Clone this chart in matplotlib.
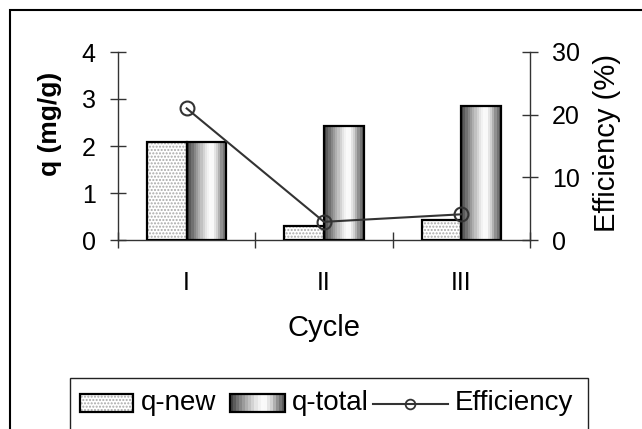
import numpy as np
import matplotlib
matplotlib.use("Agg")
import matplotlib.pyplot as plt
from matplotlib.patches import Rectangle
from matplotlib.lines import Line2D

# ---- data ----
cycles = ["I", "II", "III"]
q_new = [2.09, 0.30, 0.43]
q_total = [2.09, 2.43, 2.85]
efficiency = [21.0, 2.9, 4.1]
left_ticks = [0, 1, 2, 3, 4]
right_ticks = [0, 10, 20, 30]

plt.rcParams['font.family'] = ['Liberation Sans', 'DejaVu Sans']
W, H = 642, 429
fig = plt.figure(figsize=(W / 100, H / 100), dpi=100)

def fx(x):
    return x / W

def fy(y):
    return 1 - y / H

ax = fig.add_axes([fx(118), fy(240), fx(530) - fx(118), fy(52) - fy(240)])
ax2 = ax.twinx()

axis_col = '#333333'
x = np.arange(len(cycles))
w = 0.29

# gradient colormap for cylinder look (banded)
prof_pos = [0.0, 0.12, 0.3, 0.5, 0.62, 0.75, 0.88, 1.0]
prof_val = [0.22, 0.42, 0.68, 0.93, 1.0, 0.82, 0.52, 0.32]
nb = 18
band_x = (np.arange(nb) + 0.5) / nb
band_v = np.interp(band_x, prof_pos, prof_val)
grad_img = np.tile(band_v, (2, 1))
cmap_g = plt.get_cmap('gray')

# q-new bars: stippled fill
ax.bar(x - w / 2, q_new, w, color='white', edgecolor='#a8a8a8', hatch='.....',
       linewidth=0, zorder=2)
ax.bar(x - w / 2, q_new, w, fill=False, edgecolor='black', linewidth=1.6, zorder=4)

# q-total bars: gradient fill clipped to bar
tot_bars = ax.bar(x + w / 2, q_total, w, fill=False, edgecolor='black',
                  linewidth=1.6, zorder=4)
for p in tot_bars.patches:
    x0, y0 = p.get_x(), p.get_y()
    im = ax.imshow(grad_img, cmap=cmap_g, vmin=0, vmax=1, aspect='auto',
                   extent=[x0, x0 + p.get_width(), y0, y0 + p.get_height()],
                   interpolation='nearest', zorder=3)
    im.set_clip_path(p)

ax.set_xlim(-0.5, len(cycles) - 0.5)
ax.set_ylim(0, 4)
ax2.set_ylim(0, 30)

# efficiency line
ax2.plot(x, efficiency, color='#333333', lw=1.5, marker='o', ms=10,
         mfc='none', mec='#333333', mew=1.5, zorder=5)

# spines
for a in (ax, ax2):
    a.spines['top'].set_visible(False)
ax.spines['right'].set_visible(False)
ax2.spines['left'].set_visible(False)
ax2.spines['bottom'].set_visible(False)
for s in ('left', 'bottom'):
    ax.spines[s].set_color(axis_col)
    ax.spines[s].set_linewidth(1.0)
ax2.spines['right'].set_color(axis_col)
ax2.spines['right'].set_linewidth(1.0)

# ticks
ax.set_yticks(left_ticks)
ax2.set_yticks(right_ticks)
ax.set_xticks(np.arange(-0.5, len(cycles)), minor=False)
ax.set_xticklabels([])
ax.set_xticks(x, minor=True)
ax.set_xticklabels(cycles, minor=True)
ax.tick_params(axis='x', which='major', direction='inout', length=12,
               width=1.0, color=axis_col)
ax.tick_params(axis='x', which='minor', length=0, pad=22, labelsize=18)
ax.tick_params(axis='y', direction='inout', length=12, width=1.0,
               color=axis_col, labelsize=18, pad=10)
ax2.tick_params(axis='y', direction='inout', length=12, width=1.0,
                color=axis_col, labelsize=18, pad=10)

ax.set_xlabel('Cycle', fontsize=21, labelpad=14)
ax.set_ylabel('q (mg/g)', fontsize=19, fontweight='bold')
ax.yaxis.set_label_coords(-0.136, 0.62)
ax2.set_ylabel('Efficiency (%)', fontsize=21)
ax2.yaxis.set_label_coords(1.153, 0.516)

# outer border
fig.add_artist(Rectangle((fx(10), -0.1), 1.0, fy(10) + 0.1,
                         transform=fig.transFigure, fill=False,
                         edgecolor='black', lw=1.5, clip_on=False))

# manual legend
tf = fig.transFigure
fig.add_artist(Rectangle((fx(70), -0.1), fx(588) - fx(70), fy(378) + 0.1,
                         transform=tf, fill=False, edgecolor='#222222',
                         lw=1.0, clip_on=False))
ly0, ly1 = 394, 412
fig.add_artist(Rectangle((fx(80), fy(ly1)), fx(133) - fx(80), fy(ly0) - fy(ly1),
                         transform=tf, facecolor='white', edgecolor='#a8a8a8',
                         hatch='.....', lw=0))
fig.add_artist(Rectangle((fx(80), fy(ly1)), fx(133) - fx(80), fy(ly0) - fy(ly1),
                         transform=tf, fill=False, edgecolor='black', lw=1.6))
gx0, gx1 = 230, 285
for i in range(nb):
    xa = gx0 + (gx1 - gx0) * i / nb
    fig.add_artist(Rectangle((fx(xa), fy(ly1)), (gx1 - gx0) / nb / W,
                             fy(ly0) - fy(ly1), transform=tf,
                             facecolor=cmap_g(band_v[i]), lw=0))
fig.add_artist(Rectangle((fx(gx0), fy(ly1)), fx(gx1) - fx(gx0), fy(ly0) - fy(ly1),
                         transform=tf, fill=False, edgecolor='black', lw=1.6))
fig.add_artist(Line2D([fx(373), fx(448)], [fy(404), fy(404)], transform=tf,
                      color='#333333', lw=1.5))
fig.add_artist(Line2D([fx(410)], [fy(404)], transform=tf, marker='o', ms=7,
                      mfc='none', mec='#333333', mew=1.3))
for tx, lbl in [(141, 'q-new'), (292, 'q-total'), (455, 'Efficiency')]:
    fig.text(fx(tx), fy(403), lbl, fontsize=20, va='center', ha='left')

fig.savefig('out.png', dpi=100)
